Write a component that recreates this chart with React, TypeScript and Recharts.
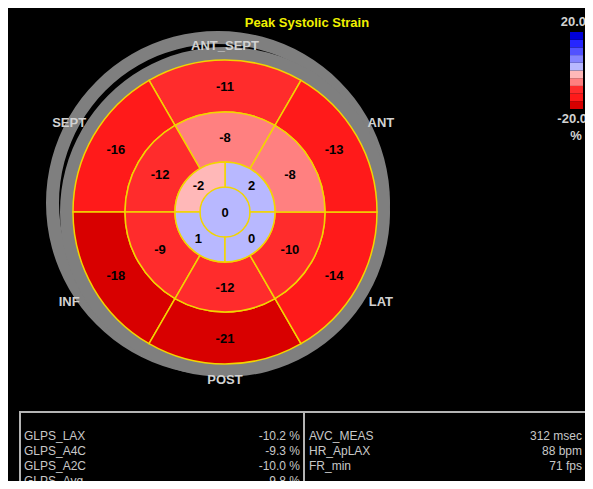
import React from 'react';
import { PieChart, Pie, Cell, BarChart, Bar, XAxis, YAxis } from 'recharts';

// bullseye values, counter-clockwise starting at the top segment (ANT_SEPT)
const basalNames = ['ANT_SEPT', 'SEPT', 'INF', 'POST', 'LAT', 'ANT'];
const basalValues = [-11, -16, -18, -21, -14, -13];
const midValues = [-8, -12, -9, -12, -10, -8];
// apical ring starts at 3 o'clock: upper-right, upper-left, lower-left, lower-right
const apicalValues = [2, -2, 1, 0];
const apexValues = [0];

// colour scale, bottom (-20) to top (+20)
const legendBands = [-20, -16, -12, -8, -4, 0, 4, 8, 12, 16];
const legendStep = 4;
const legendColors = [
  '#d80000', '#ff1a1a', '#ff2c2c', '#ff8080', '#ffb8b8',
  '#b8b8ff', '#8484ff', '#5252ff', '#2626ff', '#0000d8',
];

const leftLabels = ['GLPS_LAX', 'GLPS_A4C', 'GLPS_A2C', 'GLPS_Avg'];
const leftValues = ['-10.2 %', '-9.3 %', '-10.0 %', '-9.8 %'];
const rightLabels = ['AVC_MEAS', 'HR_ApLAX', 'FR_min'];
const rightValues = ['312 msec', '88 bpm', '71 fps'];

const FONT = '"Liberation Sans", Arial, sans-serif';
const RAD = Math.PI / 180;
const CX = 217;
const CY = 204;
const SEG_STROKE = '#f2d500';

function colorFor(v: number) {
  const idx = Math.max(0, Math.min(legendBands.length - 1, Math.floor((v - legendBands[0]) / legendStep)));
  return legendColors[idx];
}

const ringData = (values: number[]) => values.map((v) => ({ size: 1, value: v }));

const legendRow: Record<string, any> = { name: 'scale' };
legendBands.forEach((_, i) => {
  legendRow[`b${i}`] = legendStep;
});

const valueText = (x: number, y: number, v: number, key?: string) => (
  <text
    key={key}
    x={x}
    y={y}
    textAnchor="middle"
    dominantBaseline="central"
    fill="#000"
    fontSize={13}
    fontWeight="bold"
    fontFamily={FONT}
  >
    {v}
  </text>
);

const ringLabel = (values: number[], radius: number) => (props: any) => {
  const a = -props.midAngle * RAD;
  return valueText(CX + radius * Math.cos(a), CY + radius * Math.sin(a), values[props.index]);
};

const basalLabel = (props: any) => {
  const a = -props.midAngle * RAD;
  const rName = 167 + 15 * Math.abs(Math.cos(a));
  return (
    <g>
      {valueText(CX + 126 * Math.cos(a), CY + 126 * Math.sin(a), basalValues[props.index])}
      <text
        x={CX + rName * Math.cos(a)}
        y={CY + rName * Math.sin(a)}
        textAnchor="middle"
        dominantBaseline="central"
        fill="#d2d2d2"
        fontSize={13}
        fontWeight="bold"
        fontFamily={FONT}
      >
        {basalNames[props.index]}
      </text>
    </g>
  );
};

const apexLabel = (props: any) => valueText(CX, CY, apexValues[props.index]);

const cellText: React.CSSProperties = { height: 15, lineHeight: '15px', whiteSpace: 'nowrap' };

export default function App() {
  return (
    <div
      style={{
        position: 'relative',
        width: 585,
        height: 481,
        marginBottom: -8,
        background: '#000',
        overflow: 'hidden',
        fontFamily: FONT,
      }}
    >
      <div style={{ position: 'absolute', left: 0, top: 0 }}>
        <PieChart width={585} height={400} margin={{ top: 0, right: 0, bottom: 0, left: 0 }}>
          <Pie
            data={[{ size: 1 }]}
            dataKey="size"
            cx={210}
            cy={195}
            innerRadius={159}
            outerRadius={172}
            fill="#7f7f7f"
            stroke="none"
            isAnimationActive={false}
          />
          <Pie
            data={[{ size: 1 }]}
            dataKey="size"
            cx={CX}
            cy={CY}
            innerRadius={150}
            outerRadius={165}
            fill="#7f7f7f"
            stroke="none"
            isAnimationActive={false}
          />
          <Pie
            data={ringData(basalValues)}
            dataKey="size"
            cx={CX}
            cy={CY}
            innerRadius={100}
            outerRadius={152}
            startAngle={60}
            endAngle={420}
            stroke={SEG_STROKE}
            strokeWidth={1.5}
            label={basalLabel}
            labelLine={false}
            isAnimationActive={false}
          >
            {basalValues.map((v, i) => (
              <Cell key={i} fill={colorFor(v)} />
            ))}
          </Pie>
          <Pie
            data={ringData(midValues)}
            dataKey="size"
            cx={CX}
            cy={CY}
            innerRadius={50}
            outerRadius={100}
            startAngle={60}
            endAngle={420}
            stroke={SEG_STROKE}
            strokeWidth={1.5}
            label={ringLabel(midValues, 75)}
            labelLine={false}
            isAnimationActive={false}
          >
            {midValues.map((v, i) => (
              <Cell key={i} fill={colorFor(v)} />
            ))}
          </Pie>
          <Pie
            data={ringData(apexValues)}
            dataKey="size"
            cx={CX}
            cy={CY}
            innerRadius={0}
            outerRadius={25}
            stroke="none"
            label={apexLabel}
            labelLine={false}
            isAnimationActive={false}
          >
            {apexValues.map((v, i) => (
              <Cell key={i} fill={colorFor(v)} />
            ))}
          </Pie>
          <Pie
            data={ringData(apicalValues)}
            dataKey="size"
            cx={CX}
            cy={CY}
            innerRadius={25}
            outerRadius={50}
            startAngle={0}
            endAngle={360}
            stroke={SEG_STROKE}
            strokeWidth={1.5}
            label={ringLabel(apicalValues, 37.5)}
            labelLine={false}
            isAnimationActive={false}
          >
            {apicalValues.map((v, i) => (
              <Cell key={i} fill={colorFor(v)} />
            ))}
          </Pie>
        </PieChart>
      </div>

      <div style={{ position: 'absolute', left: 562, top: 24 }}>
        <BarChart
          width={13}
          height={77}
          data={[legendRow]}
          margin={{ top: 0, right: 0, bottom: 0, left: 0 }}
          barCategoryGap={0}
        >
          <XAxis dataKey="name" hide />
          <YAxis hide domain={[0, legendBands.length * legendStep]} />
          {legendColors.map((c, i) => (
            <Bar key={i} dataKey={`b${i}`} stackId="s" fill={c} isAnimationActive={false} />
          ))}
        </BarChart>
      </div>

      <svg width={585} height={140} style={{ position: 'absolute', left: 0, top: 0, pointerEvents: 'none' }}>
        <text x={299} y={14} textAnchor="middle" dominantBaseline="central" fill="#f0f000" fontSize={13} fontWeight="bold" fontFamily={FONT}>
          Peak Systolic Strain
        </text>
        <text x={578} y={13} textAnchor="end" dominantBaseline="central" fill="#d2d2d2" fontSize={13} fontWeight="bold" fontFamily={FONT}>
          {legendBands[legendBands.length - 1] + legendStep}.0
        </text>
        <text x={579} y={110} textAnchor="end" dominantBaseline="central" fill="#d2d2d2" fontSize={13} fontWeight="bold" fontFamily={FONT}>
          {legendBands[0]}.0
        </text>
        <text x={568} y={127} textAnchor="middle" dominantBaseline="central" fill="#d2d2d2" fontSize={13} fontWeight="bold" fontFamily={FONT}>
          %
        </text>
      </svg>

      <div
        style={{
          position: 'absolute',
          left: 11,
          top: 403,
          width: 568,
          height: 110,
          border: '2px solid #b4b4b4',
          boxSizing: 'border-box',
          display: 'flex',
          color: '#c8c8c8',
          fontSize: 12,
        }}
      >
        <div style={{ width: 282, paddingTop: 16, boxSizing: 'border-box', display: 'flex' }}>
          <div style={{ flex: 1, paddingLeft: 3 }}>
            {leftLabels.map((t) => (
              <div key={t} style={cellText}>{t}</div>
            ))}
          </div>
          <div style={{ paddingRight: 3, textAlign: 'right' }}>
            {leftValues.map((t) => (
              <div key={t} style={cellText}>{t}</div>
            ))}
          </div>
        </div>
        <div
          style={{
            flex: 1,
            paddingTop: 16,
            borderLeft: '2px solid #b4b4b4',
            boxSizing: 'border-box',
            display: 'flex',
          }}
        >
          <div style={{ flex: 1, paddingLeft: 4 }}>
            {rightLabels.map((t) => (
              <div key={t} style={cellText}>{t}</div>
            ))}
          </div>
          <div style={{ paddingRight: 3, textAlign: 'right' }}>
            {rightValues.map((t) => (
              <div key={t} style={cellText}>{t}</div>
            ))}
          </div>
        </div>
      </div>
    </div>
  );
}
